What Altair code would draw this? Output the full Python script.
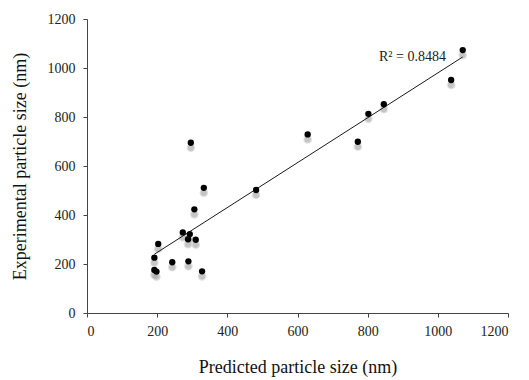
import altair as alt
import pandas as pd

predicted = [296, 629, 772, 333, 482, 306, 273, 293, 288, 310, 243, 289, 328,
             203, 192, 192, 198, 802, 846, 1071, 1038]
experimental = [695, 729, 699, 511, 502, 423, 329, 322, 301, 299, 207, 211, 170,
                282, 226, 176, 169, 813, 852, 1073, 951]

label_text = ["R² = 0.8484"]
label_x = [1023]
label_y = [1045]

df = pd.DataFrame({"pred": predicted, "exp": experimental})
lab = pd.DataFrame({"t": label_text, "x": label_x, "y": label_y})

FONT = "Liberation Serif"

xs = alt.Scale(domain=[0, 1200], nice=False)
ys = alt.Scale(domain=[0, 1200], nice=False)

xax = alt.Axis(values=list(range(0, 1201, 200)), format="d", title="Predicted particle size (nm)",
               grid=False, tickSize=4, labelPadding=7, titlePadding=20)
yax = alt.Axis(values=list(range(0, 1201, 200)), format="d", title="Experimental particle size (nm)",
               grid=False, tickSize=4, labelPadding=8, titlePadding=18)

base = alt.Chart(df)

shadow1 = base.mark_circle(color="#c0c0c0", opacity=0.45, size=75, yOffset=5).encode(
    x=alt.X("pred:Q", scale=xs, axis=xax),
    y=alt.Y("exp:Q", scale=ys, axis=yax),
)
shadow2 = base.mark_circle(color="#a8a8a8", opacity=0.5, size=40, yOffset=5).encode(
    x="pred:Q", y="exp:Q"
)

trend = base.transform_regression("pred", "exp").mark_line(color="#1a1a1a", strokeWidth=1).encode(
    x="pred:Q", y="exp:Q"
)

dots = base.mark_circle(color="black", opacity=1, size=40).encode(
    x="pred:Q", y="exp:Q"
)

label = alt.Chart(lab).mark_text(align="right", baseline="middle", font=FONT,
                                 fontSize=14, color="#222222").encode(
    x="x:Q", y="y:Q", text="t:N"
)

chart = alt.layer(shadow1, shadow2, trend, dots, label).properties(
    width=421, height=294,
    padding={"left": 3, "top": 4, "right": 5, "bottom": 5},
).configure_view(stroke=None).configure_axis(
    labelFont=FONT, titleFont=FONT, labelFontSize=14, titleFontSize=18,
    titleFontWeight="normal", labelColor="#222222", titleColor="#111111",
    domainColor="#444444", tickColor="#444444",
)

chart.save("out.html", embed_options={"renderer": "svg", "actions": False})
